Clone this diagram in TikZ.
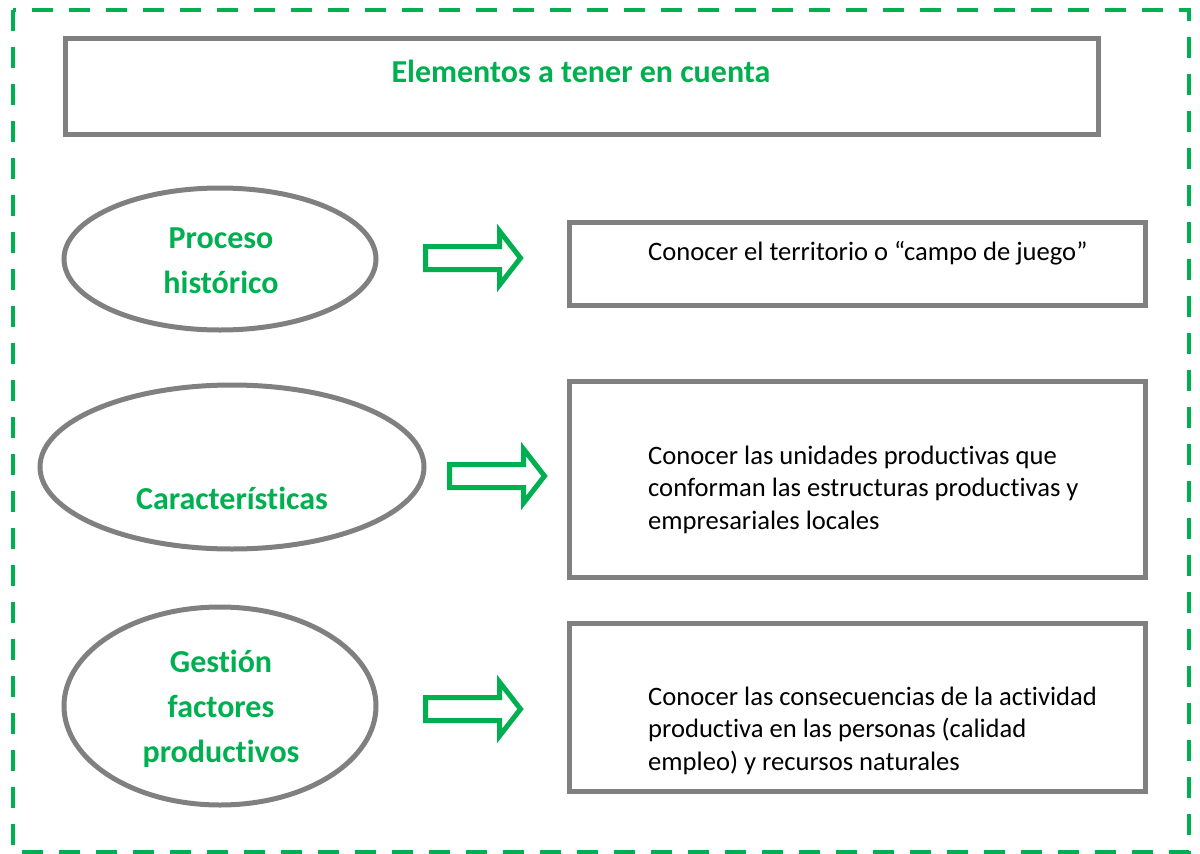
\documentclass[tikz,border=0pt]{standalone}
\usepackage{fontspec}
\setmainfont{Carlito}[Ligatures=NoCommon]
\definecolor{vgreen}{HTML}{00B050}
\definecolor{vgray}{HTML}{808080}
\begin{document}
\begin{tikzpicture}[x=1pt,y=-1pt,
  frame/.style={draw=vgreen,line width=4.5pt,dash pattern=on 21pt off 16pt},
  graybox/.style={draw=vgray,line width=5pt},
  oval/.style={draw=vgray,line width=5pt},
  gtext/.style={text=vgreen,font=\fontsize{32}{45}\selectfont\bfseries,align=center,anchor=base,inner sep=0pt},
  btext/.style={text=black,font=\fontsize{26.6}{32.5}\selectfont,align=left,anchor=base west,inner sep=0pt},
  arrowline/.style={draw=vgreen,line width=5pt,line join=miter,fill=white},
  barrow/.pic={\path[arrowline] (0,-11.5) -- (74,-11.5) -- (74,-27) -- (95,0) -- (74,27) -- (74,11.5) -- (0,11.5) -- cycle;}
]
\useasboundingbox (0,0) rectangle (1200,854);
\draw[frame] (13,10) rectangle (1189,852);
% title
\draw[graybox] (65,38) rectangle (1098,134);
\node[gtext] (title) at (581,82) {Elementos a tener en cuenta};
% ellipses
\draw[oval] (220,259) ellipse [x radius=156, y radius=71];
\node[gtext] (e1) at (221,293) {Proceso\\histórico};
\draw[oval] (232,467) ellipse [x radius=192, y radius=82];
\node[gtext] (e2) at (232,509) {Características};
\draw[oval] (220,706) ellipse [x radius=156, y radius=99];
\node[gtext] (e3) at (221,762) {Gestión\\factores\\productivos};
% arrows
\pic at (425.5,258) {barrow};
\pic at (449.5,476) {barrow};
\pic at (425.5,709) {barrow};
% boxes
\draw[graybox] (569,222) rectangle (1145,305);
\node[btext] (t1) at (648,260) {Conocer el territorio o “campo de juego”};
\draw[graybox] (569,381) rectangle (1145,577);
\node[btext] (t2) at (648,529) {Conocer las unidades productivas que\\conforman las estructuras productivas y\\empresariales locales};
\draw[graybox] (569,623) rectangle (1145,791);
\node[btext] (t3) at (648,770) {Conocer las consecuencias de la actividad\\productiva en las personas (calidad\\empleo) y recursos naturales};
\end{tikzpicture}
\end{document}
